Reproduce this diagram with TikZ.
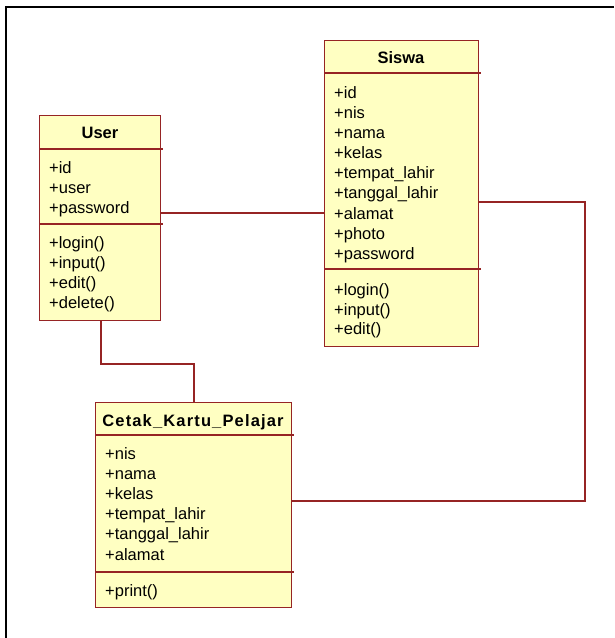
\documentclass[tikz,border=0pt]{standalone}
\usepackage{fontspec}
\setmainfont{Liberation Sans}
\newfontfamily\widetitle[LetterSpace=7]{Liberation Sans}
\usetikzlibrary{calc}
\definecolor{umlborder}{RGB}{150,36,36}
\definecolor{umlfill}{RGB}{255,255,194}
\tikzset{
  classbox/.style={draw=umlborder, fill=umlfill, line width=1.4pt, rectangle, inner sep=0pt, anchor=north west},
  divider/.style={draw=umlborder, line width=1.4pt},
  conn/.style={draw=umlborder, line width=1.4pt},
  frame/.style={draw=black, line width=2pt},
  member/.style={anchor=base west, inner sep=0pt, font=\fontsize{16.5}{20}\selectfont},
  title/.style={anchor=base, inner sep=0pt, font=\fontsize{16.5}{20}\selectfont\bfseries},
}
\begin{document}
\begin{tikzpicture}[x=1pt,y=-1pt]
\useasboundingbox (0,0) rectangle (614,638);
% outer frame (cut off at right and bottom)
\coordinate (ftr) at (614,7);
\coordinate (ftl) at (6,7);
\coordinate (fbl) at (6,638);
\draw[frame] (ftr) -- (ftl) -- (fbl);

% ---------- User ----------
\node[classbox, minimum width=121, minimum height=205] (user) at (39,115) {};
\draw[divider] ($(user.north west)+(0,34)$) -- ($(user.north east)+(2,34)$);
\draw[divider] ($(user.north west)+(0,109)$) -- ($(user.north east)+(2,109)$);
\node[title] (usert) at (100,138) {User};
\node[member] (u1) at (49,173) {+id};
\node[member] (u2) at (49,193) {+user};
\node[member] (u3) at (49,213) {+password};
\node[member] (u4) at (49,248) {+login()};
\node[member] (u5) at (49,268) {+input()};
\node[member] (u6) at (49,288) {+edit()};
\node[member] (u7) at (49,308) {+delete()};

% ---------- Siswa ----------
\node[classbox, minimum width=154, minimum height=306] (siswa) at (324,40) {};
\draw[divider] ($(siswa.north west)+(0,33)$) -- ($(siswa.north east)+(2,33)$);
\draw[divider] ($(siswa.north west)+(0,229)$) -- ($(siswa.north east)+(2,229)$);
\node[title] (siswat) at (401,63) {Siswa};
\node[member] (s1) at (334,98) {+id};
\node[member] (s2) at (334,118) {+nis};
\node[member] (s3) at (334,138) {+nama};
\node[member] (s4) at (334,158) {+kelas};
\node[member] (s5) at (334,178) {+tempat\_lahir};
\node[member] (s6) at (334,198) {+tanggal\_lahir};
\node[member] (s7) at (334,219) {+alamat};
\node[member] (s8) at (334,239) {+photo};
\node[member] (s9) at (334,259) {+password};
\node[member] (s10) at (334,295) {+login()};
\node[member] (s11) at (334,315) {+input()};
\node[member] (s12) at (334,334) {+edit()};

% ---------- Cetak_Kartu_Pelajar ----------
\node[classbox, minimum width=196, minimum height=205] (cetak) at (95,402) {};
\draw[divider] ($(cetak.north west)+(0,33)$) -- ($(cetak.north east)+(2,33)$);
\draw[divider] ($(cetak.north west)+(0,170)$) -- ($(cetak.north east)+(2,170)$);
\node[title, font=\fontsize{16.5}{20}\selectfont\widetitle\bfseries] (cetakt) at (193,426) {Cetak\_Kartu\_Pelajar};
\node[member] (c1) at (105,459) {+nis};
\node[member] (c2) at (105,479) {+nama};
\node[member] (c3) at (105,499) {+kelas};
\node[member] (c4) at (105,519) {+tempat\_lahir};
\node[member] (c5) at (105,539) {+tanggal\_lahir};
\node[member] (c6) at (105,560) {+alamat};
\node[member] (c7) at (105,596) {+print()};

% ---------- connectors ----------
\draw[conn] (user.east |- {(0,213)}) -- (siswa.west |- {(0,213)});
\draw[conn] (user.south -| {(101,0)}) -- (101,364) -- (194,364) -- (cetak.north -| {(194,0)});
\draw[conn] (siswa.east |- {(0,202)}) -- (585,202) -- (585,501) -- (cetak.east |- {(0,501)});
\end{tikzpicture}
\end{document}
